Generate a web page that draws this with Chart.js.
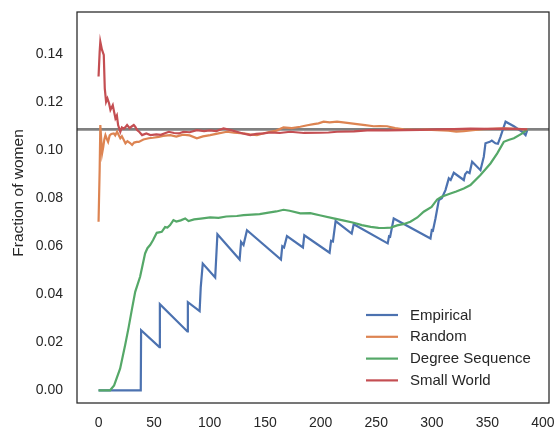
<!DOCTYPE html>
<html>
<head>
<meta charset="utf-8">
<script src="https://cdn.jsdelivr.net/npm/chart.js@4.4.1/dist/chart.umd.min.js"></script>
<style>
  html, body { margin: 0; padding: 0; background: #ffffff; }
  #wrap { width: 557px; height: 431px; position: relative; }
</style>
</head>
<body>
<div id="wrap"><canvas id="c" width="557" height="431"></canvas></div>
<script>
// ---- Data ----
const seriesLabels = ['Empirical', 'Random', 'Degree Sequence', 'Small World'];
const seriesColors = ['#4C72B0', '#DD8452', '#55A868', '#C44E52'];
const yAxisLabel = 'Fraction of women';

const xTicks = [0, 50, 100, 150, 200, 250, 300, 350, 400];
const yTicks = [0.00, 0.02, 0.04, 0.06, 0.08, 0.10, 0.12, 0.14];
const referenceFraction = 0.1087;

const empiricalX = [0, 38, 38.3, 54.8, 55.2, 80, 80.4, 91, 92, 93.8, 105, 107, 127, 128.3, 130.5, 133.6,
  164.2, 165.4, 167, 169.6, 184, 185.2, 208, 209.3, 211, 213.4, 227.9, 229.7, 260.3, 261.5, 262.5, 265.7,
  298.8, 300, 301, 303.3, 306.3, 309, 312.3, 315.3, 317, 319.8, 328.8, 330, 331.8, 334, 336.3, 343.8,
  346.8, 348.3, 352.2, 354, 357.3, 359.5, 361.8, 366.4, 373.9, 381.4, 384.4, 385.9];
const empiricalY = [0, 0, 0.025, 0.018, 0.0359, 0.0245, 0.0367, 0.033, 0.043, 0.0528, 0.047, 0.065, 0.0545, 0.0618, 0.0605, 0.0667,
  0.0545, 0.060, 0.0595, 0.0642, 0.0595, 0.0646, 0.0573, 0.0623, 0.062, 0.0705, 0.0653, 0.0692, 0.0612, 0.0642, 0.064, 0.0716,
  0.0632, 0.0667, 0.0665, 0.0716, 0.0792, 0.080, 0.0834, 0.0883, 0.0876, 0.0906, 0.0876, 0.0900, 0.091, 0.0905, 0.0952, 0.0917,
  0.0973, 0.1029, 0.1035, 0.1040, 0.1029, 0.1027, 0.1056, 0.1119, 0.1100, 0.1077, 0.1063, 0.1084];

const randomX = [0, 1, 1.6, 3.2, 4.3, 5.2, 6.2, 7.4, 8.6, 10, 11.5, 13.7, 15, 16.7, 18, 19.6, 21, 22.5, 24.2, 26, 28.4, 30.2,
  32, 34.4, 36.2, 40.4, 45.2, 49, 54.2, 58, 64.5, 70, 76, 82, 88.5, 94, 100.5, 108, 115.5, 122, 130.5, 136, 142.6, 148, 154.5,
  160, 166.5, 174, 181.6, 188, 193.6, 198, 202.6, 208, 214.7, 222, 232.7, 240, 247.7, 253, 259.7, 267, 274.7, 285, 295,
  304.8, 315, 322, 328.8, 337, 346.8, 355, 364.8, 375, 385.9];
const randomY = [0.0702, 0.092, 0.1105, 0.0987, 0.1015, 0.1045, 0.1063, 0.1048, 0.1035, 0.1062, 0.1068, 0.107, 0.1062, 0.1077, 0.1065, 0.105, 0.1058, 0.1045, 0.1029, 0.1038, 0.1030, 0.1022,
  0.1032, 0.1035, 0.1035, 0.1045, 0.105, 0.1052, 0.1056, 0.106, 0.1063, 0.1057, 0.1065, 0.1062, 0.105, 0.1058, 0.1063, 0.107, 0.1077, 0.1073, 0.107, 0.1066, 0.1063, 0.107, 0.1077,
  0.1082, 0.1095, 0.1092, 0.1098, 0.1104, 0.1109, 0.1112, 0.1119, 0.1116, 0.1119, 0.1115, 0.1109, 0.1105, 0.110, 0.1101, 0.110, 0.1092, 0.1087, 0.1085, 0.1086,
  0.1084, 0.1082, 0.1078, 0.108, 0.1084, 0.1088, 0.1089, 0.1091, 0.1089, 0.1087];

const degreeX = [0, 10.4, 14, 19.4, 24, 27, 29.9, 33, 37.4, 41.9, 44, 46.4, 49, 52.4, 56.9, 59.9, 62, 64.4, 67.4, 70, 74, 78, 81,
  86, 92, 100.5, 108, 115, 124.5, 130.5, 138, 145, 153, 160, 166.5, 172, 181.6, 190.6, 200, 211.6, 220, 229.7, 237, 245, 252, 257,
  263, 268.8, 275, 280.7, 287, 292.7, 299.8, 304.8, 308.8, 316.8, 322, 328.8, 334.8, 343.8, 352.8, 358.9, 364.8, 369, 373.9, 381.4, 385.9];
const degreeY = [0, 0, 0.002, 0.009, 0.019, 0.026, 0.0334, 0.041, 0.0473, 0.057, 0.0592, 0.0605, 0.0625, 0.0656, 0.066, 0.068, 0.0678, 0.0688, 0.0709, 0.0703, 0.0708, 0.0716, 0.0705,
  0.0712, 0.0715, 0.072, 0.0718, 0.0724, 0.0726, 0.073, 0.0732, 0.0734, 0.074, 0.0745, 0.0752, 0.0748, 0.0737, 0.0738, 0.0728, 0.0716, 0.0708, 0.0698, 0.0688, 0.0681, 0.0677, 0.0676,
  0.0678, 0.0687, 0.0693, 0.0702, 0.072, 0.0744, 0.0764, 0.0795, 0.0806, 0.082, 0.0828, 0.0841, 0.0855, 0.0897, 0.0945, 0.0987, 0.1035, 0.1043, 0.105, 0.107, 0.1087];

const smallWorldX = [0, 1, 1.6, 3, 4.7, 5.6, 6.8, 8, 9.5, 10.7, 12.8, 14, 15.2, 16.5, 17.6, 19.6, 21, 22.7, 24, 25.7, 28, 29.5,
  31.7, 33, 34.7, 37, 39.2, 43, 46.7, 52, 56, 63.2, 68, 72.3, 76.4, 82, 88.5, 95, 100, 106, 112.5, 118, 124.5, 130, 136.5,
  142, 148.5, 154.5, 163, 172.5, 185, 199.6, 207, 214.7, 230, 244.7, 260, 274.7, 290, 304.8, 320, 334.8, 350, 365, 375, 385.9];
const smallWorldY = [0.1307, 0.141, 0.1452, 0.142, 0.1397, 0.1258, 0.1202, 0.1216, 0.1195, 0.1168, 0.1188, 0.116, 0.1133, 0.1145, 0.1105, 0.1077, 0.1095, 0.109, 0.1095, 0.1105, 0.1092, 0.1098,
  0.1105, 0.1098, 0.1084, 0.1075, 0.1063, 0.107, 0.1063, 0.1066, 0.1064, 0.1077, 0.1072, 0.107, 0.1077, 0.1075, 0.1084, 0.1080, 0.1083, 0.108, 0.1091, 0.1085, 0.1077, 0.107, 0.1063,
  0.1068, 0.107, 0.1074, 0.1072, 0.1077, 0.1072, 0.1073, 0.1074, 0.1077, 0.1079, 0.1084, 0.1083, 0.1084, 0.1085, 0.1087, 0.1088, 0.109, 0.1089, 0.109, 0.1089, 0.1087];

// ---- Build chart ----
const pairs = (xs, ys) => xs.map((x, i) => ({ x: x, y: ys[i] }));
const seriesData = [
  pairs(empiricalX, empiricalY),
  pairs(randomX, randomY),
  pairs(degreeX, degreeY),
  pairs(smallWorldX, smallWorldY)
];
const drawOrder = [3, 2, 1, 0]; // later series on top

const textColor = '#262626';
const fontFamily = '"Liberation Sans", Arial, sans-serif';

const refLinePlugin = {
  id: 'refLine',
  beforeDatasetsDraw(chart) {
    const { ctx, chartArea, scales } = chart;
    const y = scales.y.getPixelForValue(referenceFraction);
    ctx.save();
    ctx.strokeStyle = '#808080';
    ctx.lineWidth = 2.6;
    ctx.beginPath();
    ctx.moveTo(chartArea.left, y);
    ctx.lineTo(chartArea.right, y);
    ctx.stroke();
    ctx.restore();
  }
};

const framePlugin = {
  id: 'frame',
  afterDatasetsDraw(chart) {
    const { ctx, chartArea } = chart;
    ctx.save();
    ctx.strokeStyle = textColor;
    ctx.lineWidth = 1.25;
    ctx.strokeRect(chartArea.left, chartArea.top, chartArea.right - chartArea.left, chartArea.bottom - chartArea.top);
    ctx.restore();
  }
};

const yLabelPlugin = {
  id: 'yLabel',
  afterDraw(chart) {
    const { ctx } = chart;
    ctx.save();
    ctx.translate(19, 193);
    ctx.rotate(-Math.PI / 2);
    ctx.font = '15.5px ' + fontFamily;
    ctx.fillStyle = textColor;
    ctx.textAlign = 'center';
    ctx.textBaseline = 'middle';
    ctx.fillText(yAxisLabel, 0, 0);
    ctx.restore();
  }
};

const legendPlugin = {
  id: 'innerLegend',
  afterDraw(chart) {
    const { ctx } = chart;
    const x0 = 366, x1 = 398, tx = 410, y0 = 315, dy = 21.8;
    ctx.save();
    ctx.font = '15px ' + fontFamily;
    ctx.textBaseline = 'middle';
    ctx.textAlign = 'left';
    seriesLabels.forEach((lab, i) => {
      const y = y0 + i * dy;
      ctx.strokeStyle = seriesColors[i];
      ctx.lineWidth = 2.2;
      ctx.beginPath();
      ctx.moveTo(x0, y);
      ctx.lineTo(x1, y);
      ctx.stroke();
      ctx.fillStyle = textColor;
      ctx.fillText(lab, tx, y + 0.5);
    });
    ctx.restore();
  }
};

new Chart(document.getElementById('c'), {
  type: 'line',
  data: {
    datasets: seriesLabels.map((lab, i) => ({
      label: lab,
      data: seriesData[i],
      borderColor: seriesColors[i],
      backgroundColor: seriesColors[i],
      borderWidth: 2.2,
      pointRadius: 0,
      tension: 0,
      fill: false,
      order: drawOrder[i]
    }))
  },
  options: {
    responsive: false,
    animation: false,
    devicePixelRatio: 1,
    layout: { padding: { top: 12, right: 8, left: 0, bottom: 0 } },
    plugins: { legend: { display: false }, tooltip: { enabled: false } },
    scales: {
      x: {
        type: 'linear',
        min: -19.4,
        max: 405.5,
        grid: { display: false, drawTicks: false },
        border: { display: false },
        afterBuildTicks: (s) => { s.ticks = xTicks.map(v => ({ value: v })); },
        afterFit: (s) => { s.height = 28; s.paddingLeft = 0; s.paddingRight = 0; },
        ticks: {
          autoSkip: false, maxRotation: 0, padding: 12,
          color: textColor, font: { family: fontFamily, size: 14 },
          callback: (v) => String(v)
        }
      },
      y: {
        type: 'linear',
        min: -0.0053,
        max: 0.1576,
        grid: { display: false, drawTicks: false },
        border: { display: false },
        afterBuildTicks: (s) => { s.ticks = yTicks.map(v => ({ value: v })); },
        afterFit: (s) => { s.width = 77; s.paddingTop = 0; s.paddingBottom = 0; },
        ticks: {
          autoSkip: false, padding: 14,
          color: textColor, font: { family: fontFamily, size: 14 },
          callback: (v) => Number(v).toFixed(2)
        }
      }
    }
  },
  plugins: [refLinePlugin, framePlugin, yLabelPlugin, legendPlugin]
});
</script>
</body>
</html>
